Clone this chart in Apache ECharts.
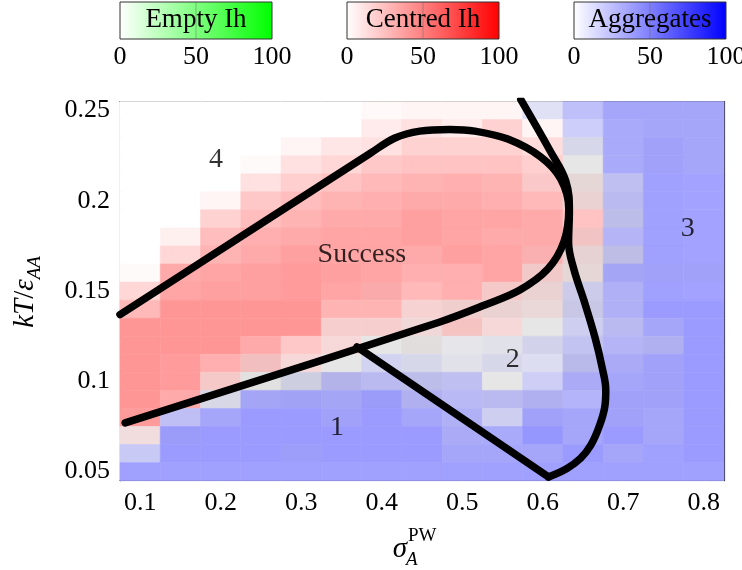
<!DOCTYPE html>
<html><head><meta charset="utf-8">
<script src="https://cdn.jsdelivr.net/npm/echarts@6/dist/echarts.min.js"></script>
<style>html,body{margin:0;padding:0;background:#fff}#c{width:742px;height:570px}</style>
</head><body><div id="c"></div>
<script>
// Column centres (sigma_A^PW) and row centres (kT/eps_AA), rows listed top to bottom
const xValues = [0.1,0.15,0.2,0.25,0.3,0.35,0.4,0.45,0.5,0.55,0.6,0.65,0.7,0.75,0.8];
const yValues = [0.25,0.24,0.23,0.22,0.21,0.2,0.19,0.18,0.17,0.16,0.15,0.14,0.13,0.12,0.11,0.1,0.09,0.08,0.07,0.06,0.05];

// Percentage of "Centred Ih" per cell (rows top to bottom)
const centred = [
[0,0,0,0,0,0,5,9,9,9,4,2,2,2,2],
[0,0,0,0,0,0,17,26,17,39,9,2,2,2,2],
[0,0,0,0,9,22,26,39,39,39,30,9,2,2,2],
[0,0,0,4,26,35,48,52,52,52,43,11,2,2,2],
[0,0,0,26,43,52,61,65,70,65,46,24,6,0,0],
[0,0,9,48,57,65,70,74,74,70,61,30,6,0,0],
[0,0,39,57,65,74,74,83,78,78,74,52,9,0,0],
[0,13,57,70,74,78,78,83,78,74,74,46,4,0,0],
[0,35,65,74,83,78,78,74,83,78,67,28,11,0,0],
[4,74,78,83,87,83,78,70,70,78,41,24,4,2,2],
[35,78,83,83,87,78,72,61,70,43,30,9,4,0,0],
[61,91,91,91,91,65,65,35,37,30,26,11,4,0,0],
[91,91,91,91,91,39,39,28,48,30,11,6,6,2,0],
[91,91,91,74,48,30,11,17,9,9,9,6,4,6,0],
[91,87,70,50,30,11,6,9,9,9,6,9,4,2,0],
[91,87,43,13,13,9,6,9,6,11,4,4,2,2,0],
[91,74,11,4,4,4,2,6,4,6,6,2,2,2,0],
[87,4,2,0,0,2,0,2,4,6,2,2,2,2,0],
[24,2,0,0,0,0,0,0,4,2,0,2,0,2,0],
[4,0,0,0,2,0,0,0,2,2,2,0,2,0,0],
[0,0,0,0,0,0,0,0,0,0,0,0,0,0,0]
];
// Percentage of "Aggregates" per cell
const aggregates = [
[0,0,0,0,0,0,0,0,0,0,22,54,76,76,76],
[0,0,0,0,0,0,0,0,0,0,0,41,72,76,76],
[0,0,0,0,0,0,0,0,0,0,0,26,72,80,76],
[0,0,0,0,0,0,0,0,0,0,0,11,72,80,76],
[0,0,0,0,0,0,0,0,0,0,2,11,50,83,80],
[0,0,0,0,0,0,0,0,0,0,0,9,54,83,80],
[0,0,0,0,0,0,0,0,0,0,0,0,48,83,80],
[0,0,0,0,0,0,0,0,0,0,0,6,61,83,80],
[0,0,0,0,0,0,0,0,0,0,2,11,46,83,80],
[0,0,0,0,0,0,0,0,0,0,6,11,74,80,80],
[0,0,0,0,0,0,2,0,0,4,9,35,65,83,80],
[0,0,0,0,0,0,0,4,6,9,9,37,65,87,87],
[0,0,0,0,0,4,4,6,4,4,11,37,54,76,87],
[0,0,0,0,0,4,11,13,13,17,30,46,61,63,87],
[0,0,0,6,4,11,33,26,17,26,24,52,70,80,87],
[0,0,4,13,30,57,54,48,50,11,39,70,76,80,87],
[0,0,24,74,78,74,85,63,57,54,63,63,80,80,87],
[0,52,76,87,87,80,87,76,65,37,80,76,80,76,87],
[6,85,87,87,87,87,87,87,70,72,91,76,87,76,87],
[43,87,87,87,83,87,87,87,76,76,76,87,76,83,87],
[83,83,83,83,83,83,83,83,83,83,83,83,83,83,83]
];
// Percentage of "Empty Ih" per cell
const empty = [
[0,0,0,0,0,0,0,0,0,0,4,2,2,2,2],
[0,0,0,0,0,0,0,0,0,0,0,2,2,2,2],
[0,0,0,0,0,0,0,0,0,0,0,9,2,2,2],
[0,0,0,0,0,0,0,0,0,0,0,11,2,2,2],
[0,0,0,0,0,0,0,0,0,0,2,11,6,0,0],
[0,0,0,0,0,0,0,0,0,0,0,9,6,0,0],
[0,0,0,0,0,0,0,0,0,0,0,0,9,0,0],
[0,0,0,0,0,0,0,0,0,0,0,6,4,0,0],
[0,0,0,0,0,0,0,0,0,0,2,11,11,0,0],
[0,0,0,0,0,0,0,0,0,0,6,11,4,2,2],
[0,0,0,0,0,0,2,0,0,4,9,9,4,0,0],
[0,0,0,0,0,0,0,4,6,9,9,11,4,0,0],
[0,0,0,0,0,4,4,6,4,4,11,6,6,2,0],
[0,0,0,0,0,4,11,13,9,9,9,6,4,6,0],
[0,0,0,6,4,11,6,9,9,9,6,9,4,2,0],
[0,0,4,13,13,9,6,9,6,11,4,4,2,2,0],
[0,0,11,4,4,4,2,6,4,6,6,2,2,2,0],
[0,4,2,0,0,2,0,2,4,6,2,2,2,2,0],
[6,2,0,0,0,0,0,0,4,2,0,2,0,2,0],
[4,0,0,0,2,0,0,0,2,2,2,0,2,0,0],
[0,0,0,0,0,0,0,0,0,0,0,0,0,0,0]
];

const xTicks = [0.1,0.2,0.3,0.4,0.5,0.6,0.7,0.8];
const yTicks = [0.05,0.1,0.15,0.2,0.25];

// Phase boundary curves
const loopLine = [[0.075,0.1370],[0.3854,0.2262],[0.4164,0.2348],[0.4474,0.2386],[0.4846,0.2395],[0.5156,0.2386],[0.5566,0.2342],[0.5975,0.2243],[0.6223,0.2121],[0.6323,0.1955],[0.6261,0.1772],[0.6062,0.1622],[0.5715,0.1506],[0.5280,0.1423],[0.4722,0.1329],[0.0814,0.0770]];
const branchLine = [[0.3692,0.1191],[0.607,0.0471]];
const rightLine = [[0.607,0.0471],[0.6300,0.0518],[0.6471,0.0575],[0.6600,0.0650],[0.6700,0.0750],[0.6770,0.0860],[0.6782,0.0950],[0.6740,0.1070],[0.6650,0.1240],[0.6509,0.1451],[0.6385,0.1622],[0.6320,0.1772],[0.6330,0.1938],[0.6285,0.2110],[0.6099,0.2270],[0.5727,0.2560]];

const regionLabels = [[0.1943,0.2226,'4'],[0.3754,0.1700,'Success'],[0.780,0.1844,'3'],[0.5628,0.1119,'2'],[0.3444,0.0742,'1']];

const legendNames = ['Empty Ih','Centred Ih','Aggregates'];
const legendColors = ['#00ff00','#ff0000','#0000ff'];
const legendTicks = [0,50,100];

const FONT = 'Liberation Serif';

function cellColor(c, a, e) {
  const k = 1.15;
  const r = Math.max(0, Math.min(255, 255 - k * (a + e)));
  const g = Math.max(0, Math.min(255, 255 - k * (c + a)));
  const b = Math.max(0, Math.min(255, 255 - k * (c + e)));
  return 'rgb(' + Math.round(r) + ',' + Math.round(g) + ',' + Math.round(b) + ')';
}

const cells = [];
yValues.forEach((y, j) => {
  xValues.forEach((x, i) => {
    cells.push([x, y, centred[j][i], aggregates[j][i], empty[j][i]]);
  });
});
const halfW = (xValues[1] - xValues[0]) / 2;
const halfH = (yValues[0] - yValues[1]) / 2;

const chart = echarts.init(document.getElementById('c'), null, {renderer: 'canvas'});

const graphics = [];
legendNames.forEach((name, k) => {
  const left = 120 + k * 227;
  const w = 152;
  graphics.push({
    type: 'rect', shape: {x: left, y: 2, width: w, height: 37},
    style: {fill: new echarts.graphic.LinearGradient(0, 0, 1, 0, [{offset: 0, color: '#ffffff'}, {offset: 1, color: legendColors[k]}]), stroke: '#333', lineWidth: 1}
  });
  graphics.push({
    type: 'line', shape: {x1: left + w / 2, y1: 2, x2: left + w / 2, y2: 39},
    style: {stroke: 'rgba(100,100,100,0.45)', lineWidth: 1}
  });
  graphics.push({
    type: 'text', x: left + w / 2, y: 20,
    style: {text: name, font: '27px "' + FONT + '"', fill: '#000', align: 'center', verticalAlign: 'middle'}
  });
  legendTicks.forEach((t) => {
    graphics.push({
      type: 'text', x: left + w * t / 100, y: 57,
      style: {text: String(t), font: '26px "' + FONT + '"', fill: '#000', align: 'center', verticalAlign: 'middle'}
    });
  });
});
// axis names
graphics.push({
  type: 'text', x: 25, y: 292, rotation: Math.PI / 2,
  style: {
    text: '{i|kT}{n|/}{i|ε}{s|AA}',
    align: 'center', verticalAlign: 'middle', fill: '#000',
    rich: {
      i: {fontFamily: FONT, fontStyle: 'italic', fontSize: 29, lineHeight: 38},
      n: {fontFamily: FONT, fontSize: 29, lineHeight: 38},
      s: {fontFamily: FONT, fontStyle: 'italic', fontSize: 19, lineHeight: 14, verticalAlign: 'bottom'}
    }
  }
});
graphics.push({type: 'text', x: 400, y: 549, style: {text: 'σ', font: 'italic 29px "' + FONT + '"', fill: '#000', align: 'center', verticalAlign: 'middle'}});
graphics.push({type: 'text', x: 408, y: 536, style: {text: 'PW', font: '19px "' + FONT + '"', fill: '#000', align: 'left', verticalAlign: 'middle'}});
graphics.push({type: 'text', x: 406, y: 560, style: {text: 'A', font: 'italic 19px "' + FONT + '"', fill: '#000', align: 'left', verticalAlign: 'middle'}});

const axisLineStyle = {show: true, lineStyle: {color: '#333', width: 1.2}};
const tickStyle = (vals) => ({show: true, inside: true, length: 10, customValues: vals, lineStyle: {color: '#888', width: 1}});
const labelFont = {fontFamily: FONT, fontSize: 26, color: '#000'};

const xMin = xValues[0] - halfW, xMax = xValues[xValues.length - 1] + halfW;
const yMin = yValues[yValues.length - 1] - halfH, yMax = yValues[0] + halfH;

const lineSeries = (data, smooth) => ({
  type: 'line', data: data, showSymbol: false, symbol: 'none', smooth: smooth, clip: true, silent: true, z: 5,
  lineStyle: {color: '#000', width: 7.5, cap: 'round', join: 'round'}
});

chart.setOption({
  animation: false,
  backgroundColor: '#fff',
  grid: {left: 120, top: 101.5, width: 604, height: 379.2, containLabel: false},
  xAxis: [
    {type: 'value', min: xMin, max: xMax, position: 'bottom', axisLine: axisLineStyle, splitLine: {show: false},
     axisTick: tickStyle(xTicks), axisLabel: Object.assign({customValues: xTicks, margin: 9}, labelFont)},
    {type: 'value', min: xMin, max: xMax, position: 'top', axisLine: axisLineStyle, splitLine: {show: false},
     axisTick: tickStyle(xTicks), axisLabel: {show: false}}
  ],
  yAxis: [
    {type: 'value', min: yMin, max: yMax, position: 'left', axisLine: axisLineStyle, splitLine: {show: false},
     axisTick: tickStyle(yTicks), axisLabel: Object.assign({customValues: yTicks, margin: 10}, labelFont)},
    {type: 'value', min: yMin, max: yMax, position: 'right', axisLine: axisLineStyle, splitLine: {show: false},
     axisTick: tickStyle(yTicks), axisLabel: {show: false}}
  ],
  series: [
    {
      type: 'custom', data: cells, encode: {x: 0, y: 1}, silent: true, z: 1,
      renderItem: function (params, api) {
        const x = api.value(0), y = api.value(1);
        const p0 = api.coord([x - halfW, y + halfH]);
        const p1 = api.coord([x + halfW, y - halfH]);
        const col = cellColor(api.value(2), api.value(3), api.value(4));
        return {type: 'rect', shape: {x: p0[0], y: p0[1], width: p1[0] - p0[0], height: p1[1] - p0[1]},
                style: {fill: col, stroke: col, lineWidth: 0.6}};
      }
    },
    lineSeries(loopLine, 0.35),
    lineSeries(branchLine, false),
    lineSeries(rightLine, 0.4),
    {
      type: 'scatter', data: regionLabels, symbolSize: 1, silent: true, z: 6,
      itemStyle: {color: 'rgba(0,0,0,0)'},
      label: {show: true, position: 'inside', formatter: p => p.value[2], fontFamily: FONT, fontSize: 28, color: '#000'}
    }
  ],
  graphic: graphics
});
</script></body></html>
